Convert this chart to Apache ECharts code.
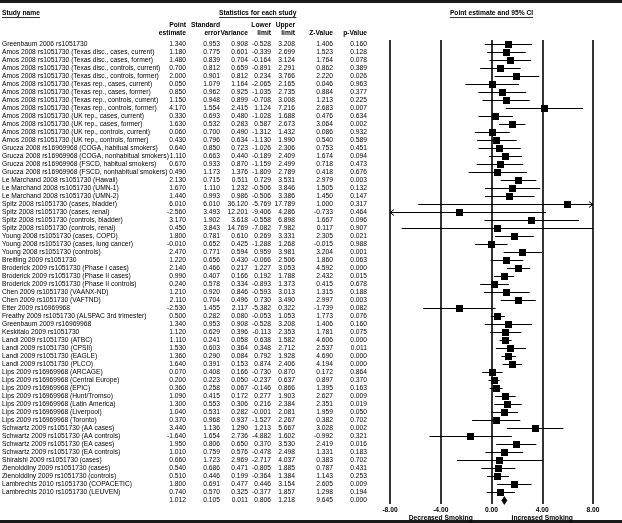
<!DOCTYPE html>
<html>
<head>
<meta charset="utf-8">
<script src="https://cdn.jsdelivr.net/npm/echarts@6/dist/echarts.min.js"></script>
<style>
html,body{margin:0;padding:0;background:#fff;}
#chart{width:622px;height:523px;}
</style>
</head>
<body>
<div id="chart"></div>
<script>
// ---------------- DATA ----------------
const studyNames = [
  'Greenbaum 2006 rs1051730',
  'Amos 2008 rs1051730 (Texas disc., cases, current)',
  'Amos 2008 rs1051730 (Texas disc., cases, former)',
  'Amos 2008 rs1051730 (Texas disc., controls, current)',
  'Amos 2008 rs1051730 (Texas disc., controls, former)',
  'Amos 2008 rs1051730 (Texas rep., cases, current)',
  'Amos 2008 rs1051730 (Texas rep., cases, former)',
  'Amos 2008 rs1051730 (Texas rep., controls, current)',
  'Amos 2008 rs1051730 (Texas rep., controls, former)',
  'Amos 2008 rs1051730 (UK rep., cases, current)',
  'Amos 2008 rs1051730 (UK rep., cases, former)',
  'Amos 2008 rs1051730 (UK rep., controls, current)',
  'Amos 2008 rs1051730 (UK rep., controls, former)',
  'Grucza 2008 rs16969968 (COGA, habitual smokers)',
  'Grucza 2008 rs16969968 (COGA, nonhabitual smokers)',
  'Grucza 2008 rs16969968 (FSCD, habitual smokers)',
  'Grucza 2008 rs16969968 (FSCD, nonhabitual smokers)',
  'Le Marchand 2008 rs1051730 (Hawaii)',
  'Le Marchand 2008 rs1051730 (UMN-1)',
  'Le Marchand 2008 rs1051730 (UMN-2)',
  'Spitz 2008 rs1051730 (cases, bladder)',
  'Spitz 2008 rs1051730 (cases, renal)',
  'Spitz 2008 rs1051730 (controls, bladder)',
  'Spitz 2008 rs1051730 (controls, renal)',
  'Young 2008 rs1051730 (cases, COPD)',
  'Young 2008 rs1051730 (cases, lung cancer)',
  'Young 2008 rs1051730 (controls)',
  'Breitling 2009 rs1051730',
  'Broderick 2009 rs1051730 (Phase I cases)',
  'Broderick 2009 rs1051730 (Phase II cases)',
  'Broderick 2009 rs1051730 (Phase II controls)',
  'Chen 2009 rs1051730 (VAANX-ND)',
  'Chen 2009 rs1051730 (VAFTND)',
  'Etter 2009 rs16969968',
  'Freathy 2009 rs1051730 (ALSPAC 3rd trimester)',
  'Greenbaum 2009 rs16969968',
  'Keskitalo 2009 rs1051730',
  'Landi 2009 rs1051730 (ATBC)',
  'Landi 2009 rs1051730 (CPSII)',
  'Landi 2009 rs1051730 (EAGLE)',
  'Landi 2009 rs1051730 (PLCO)',
  'Lips 2009 rs16969968 (ARCAGE)',
  'Lips 2009 rs16969968 (Central Europe)',
  'Lips 2009 rs16969968 (EPIC)',
  'Lips 2009 rs16969968 (Hunt/Tromso)',
  'Lips 2009 rs16969968 (Latin America)',
  'Lips 2009 rs16969968 (Liverpool)',
  'Lips 2009 rs16969968 (Toronto)',
  'Schwartz 2009 rs1051730 (AA cases)',
  'Schwartz 2009 rs1051730 (AA controls)',
  'Schwartz 2009 rs1051730 (EA cases)',
  'Schwartz 2009 rs1051730 (EA controls)',
  'Shiraishi 2009 rs1051730 (cases)',
  'Zienolddiny 2009 rs1051730 (cases)',
  'Zienolddiny 2009 rs1051730 (controls)',
  'Lambrechts 2010 rs1051730 (COPACETIC)',
  'Lambrechts 2010 rs1051730 (LEUVEN)',
  ''
];
const pointEst = [1.340,1.180,1.480,0.700,2.000,0.050,0.850,1.150,4.170,0.330,1.630,0.060,0.430,0.640,1.110,0.670,0.490,2.130,1.670,1.440,6.010,-2.560,3.170,0.450,1.800,-0.010,2.470,1.220,2.140,0.990,0.240,1.210,2.110,-2.530,0.500,1.340,1.120,1.110,1.530,1.360,1.640,0.070,0.200,0.360,1.090,1.300,1.040,0.370,3.440,-1.640,1.950,1.010,0.660,0.540,0.510,1.800,0.740,1.012];
const stdErr = [0.953,0.775,0.839,0.812,0.901,1.079,0.962,0.948,1.554,0.693,0.532,0.700,0.796,0.850,0.663,0.933,1.173,0.715,1.110,0.993,6.010,3.493,1.902,3.843,0.781,0.652,0.771,0.656,0.466,0.407,0.578,0.920,0.704,1.455,0.282,0.953,0.629,0.241,0.603,0.290,0.391,0.408,0.223,0.258,0.415,0.553,0.531,0.968,1.136,1.654,0.806,0.759,1.723,0.686,0.446,0.691,0.570,0.105];
const variance = [0.908,0.601,0.704,0.659,0.812,1.164,0.925,0.899,2.415,0.480,0.283,0.490,0.634,0.723,0.440,0.870,1.376,0.511,1.232,0.986,36.120,12.201,3.618,14.769,0.610,0.425,0.594,0.430,0.217,0.166,0.334,0.846,0.496,2.117,0.080,0.908,0.396,0.058,0.364,0.084,0.153,0.166,0.050,0.067,0.172,0.306,0.282,0.937,1.290,2.736,0.650,0.576,2.969,0.471,0.199,0.477,0.325,0.011];
const lowerLim = [-0.528,-0.339,-0.164,-0.891,0.234,-2.065,-1.035,-0.708,1.124,-1.028,0.587,-1.312,-1.130,-1.026,-0.189,-1.159,-1.809,0.729,-0.506,-0.506,-5.769,-9.406,-0.558,-7.082,0.269,-1.288,0.959,-0.066,1.227,0.192,-0.893,-0.593,0.730,-5.382,-0.053,-0.528,-0.113,0.638,0.348,0.792,0.874,-0.730,-0.237,-0.146,0.277,0.216,-0.001,-1.527,1.213,-4.882,0.370,-0.478,-2.717,-0.805,-0.364,0.446,-0.377,0.806];
const upperLim = [3.208,2.699,3.124,2.291,3.766,2.165,2.735,3.008,7.216,1.688,2.673,1.432,1.990,2.306,2.409,2.499,2.789,3.531,3.846,3.386,17.789,4.286,6.898,7.982,3.331,1.268,3.981,2.506,3.053,1.788,1.373,3.013,3.490,0.322,1.053,3.208,2.353,1.582,2.712,1.928,2.406,0.870,0.637,0.866,1.903,2.384,2.081,2.267,5.667,1.602,3.530,2.498,4.037,1.885,1.384,3.154,1.857,1.218];
const zValue = [1.406,1.523,1.764,0.862,2.220,0.046,0.884,1.213,2.683,0.476,3.064,0.086,0.540,0.753,1.674,0.718,0.418,2.979,1.505,1.450,1.000,-0.733,1.667,0.117,2.305,-0.015,3.204,1.860,4.592,2.432,0.415,1.315,2.997,-1.739,1.773,1.406,1.781,4.606,2.537,4.690,4.194,0.172,0.897,1.395,2.627,2.351,1.959,0.382,3.028,-0.992,2.419,1.331,0.383,0.787,1.143,2.605,1.298,9.645];
const pValue = [0.160,0.128,0.078,0.389,0.026,0.963,0.377,0.225,0.007,0.634,0.002,0.932,0.589,0.451,0.094,0.473,0.676,0.003,0.132,0.147,0.317,0.464,0.096,0.907,0.021,0.988,0.001,0.063,0.000,0.015,0.678,0.188,0.003,0.082,0.076,0.160,0.075,0.000,0.011,0.000,0.000,0.864,0.370,0.163,0.009,0.019,0.050,0.702,0.002,0.321,0.016,0.183,0.702,0.431,0.253,0.009,0.194,0.000];
const summaryIndex = 57;
const axisMin = -8, axisMax = 8, axisStep = 4;
const sideLabels = { '-4': 'Decreased Smoking', '4': 'Increased Smoking' };
const columnHeaders = [['Point','estimate'],['Standard','error'],['','Variance'],['Lower','limit'],['Upper','limit'],['','Z-Value'],['','p-Value']];

// ---------------- LAYOUT / STYLE ----------------
const FONT = '"Liberation Sans", Arial, Helvetica, sans-serif';
const FS = 6.7;
const GRID_LEFT = 390, GRID_RIGHT = 29, GRID_TOP = 40, GRID_H = 464;
const colRight = [186, 220, 248, 271, 295, 333, 367];
const columns = [pointEst, stdErr, variance, lowerLim, upperLim, zValue, pValue];
const rowIds = studyNames.map((_, i) => 'r' + i);

const chart = echarts.init(document.getElementById('chart'), null, {renderer: 'canvas'});

const yAxes = [{
  type: 'category', data: rowIds, inverse: true, gridIndex: 0, position: 'left',
  axisLine: {show: false}, axisTick: {show: false}, axisLabel: {show: false}, splitLine: {show: false}
}, {
  type: 'category', data: rowIds, inverse: true, gridIndex: 0, position: 'left', offset: 0,
  axisLine: {show: false}, axisTick: {show: false}, splitLine: {show: false},
  axisLabel: {show: true, interval: 0, margin: GRID_LEFT - 2, align: 'left', color: '#000',
    fontSize: FS, fontFamily: FONT, formatter: (v, i) => studyNames[i]}
}];
columns.forEach((col, c) => {
  yAxes.push({
    type: 'category', data: rowIds, inverse: true, gridIndex: 0, position: 'left',
    offset: GRID_LEFT - colRight[c],
    axisLine: {show: false}, axisTick: {show: false}, splitLine: {show: false},
    axisLabel: {show: true, interval: 0, margin: 0, align: 'right', color: '#000',
      fontSize: FS, fontFamily: FONT, formatter: (v, i) => col[i].toFixed(3)}
  });
});

const ciData = pointEst.map((p, i) => [lowerLim[i], upperLim[i], p, i]);

function renderItem(params, api) {
  const lo = api.value(0), hi = api.value(1), pt = api.value(2), idx = api.value(3);
  const yc = api.coord([0, idx])[1];
  const y = Math.round(yc) + 0.5;
  const xl = api.coord([Math.max(lo, axisMin), idx])[0];
  const xh = api.coord([Math.min(hi, axisMax), idx])[0];
  const xp = api.coord([pt, idx])[0];
  const children = [];
  if (idx === summaryIndex) {
    const xlo = api.coord([lo, idx])[0], xhi = api.coord([hi, idx])[0];
    children.push({type: 'polygon', shape: {points: [[xlo, y], [xp, y - 4], [xhi, y], [xp, y + 4]]},
      style: {fill: '#000', stroke: '#000', lineWidth: 0.6}});
    return {type: 'group', children};
  }
  children.push({type: 'line', shape: {x1: xl, y1: y, x2: xh, y2: y}, style: {stroke: '#000', lineWidth: 1}});
  if (lo < axisMin) {
    children.push({type: 'polyline', shape: {points: [[xl + 4, y - 3], [xl, y], [xl + 4, y + 3]]}, style: {stroke: '#000', lineWidth: 1, fill: null}});
  }
  if (hi > axisMax) {
    children.push({type: 'polyline', shape: {points: [[xh - 4, y - 3], [xh, y], [xh - 4, y + 3]]}, style: {stroke: '#000', lineWidth: 1, fill: null}});
  }
  const s = 7;
  children.push({type: 'rect', shape: {x: Math.round(xp - s / 2), y: Math.round(yc) - 3, width: s, height: s}, style: {fill: '#000'}});
  return {type: 'group', children};
}

// header graphics
const mctx = document.createElement('canvas').getContext('2d');
function textW(t, bold) { mctx.font = (bold ? 'bold ' : '') + FS + 'px ' + FONT; return mctx.measureText(t).width; }
const graphics = [];
graphics.push({type: 'rect', shape: {x: 0, y: 0, width: 622, height: 3}, style: {fill: '#1a1a1a'}});
graphics.push({type: 'rect', shape: {x: 0, y: 520, width: 622, height: 3}, style: {fill: '#1a1a1a'}});
function headText(t, x, y, align) {
  graphics.push({type: 'text', x: x, y: y, style: {text: t, fill: '#000', font: 'bold ' + FS + 'px ' + FONT, textAlign: align, textVerticalAlign: 'middle'}});
}
function underline(t, x, y, align) {
  const w = textW(t, true);
  const x0 = align === 'center' ? x - w / 2 : (align === 'right' ? x - w : x);
  graphics.push({type: 'line', shape: {x1: x0, y1: y + 4.5, x2: x0 + w, y2: y + 4.5}, style: {stroke: '#000', lineWidth: 0.8}});
}
headText('Study name', 2, 13, 'left'); underline('Study name', 2, 13, 'left');
const statsCenter = ((colRight[2] - textW('Variance', true)) + colRight[4]) / 2;
headText('Statistics for each study', statsCenter, 13, 'center'); underline('Statistics for each study', statsCenter, 13, 'center');
columnHeaders.forEach((h, c) => {
  if (h[0]) headText(h[0], colRight[c], 25, 'right');
  headText(h[1], colRight[c], 33, 'right');
});

chart.setOption({
  animation: false,
  backgroundColor: '#fff',
  grid: {left: GRID_LEFT, right: GRID_RIGHT, top: GRID_TOP, height: GRID_H, containLabel: false, outerBoundsMode: 'none'},
  xAxis: [{
    type: 'value', min: axisMin, max: axisMax, interval: axisStep, position: 'bottom',
    axisLine: {show: false}, axisTick: {show: false},
    splitLine: {show: true, showMinLine: true, showMaxLine: true, lineStyle: {color: '#000', width: 1.6}},
    axisLabel: {show: true, margin: 3, color: '#000', fontSize: FS, fontWeight: 'bold', fontFamily: FONT,
      formatter: v => v.toFixed(2)}
  }, {
    type: 'value', min: axisMin, max: axisMax, interval: axisStep, position: 'bottom', offset: 8,
    axisLine: {show: false}, axisTick: {show: false}, splitLine: {show: false},
    axisLabel: {show: true, margin: 3, color: '#000', fontSize: FS, fontWeight: 'bold', fontFamily: FONT,
      showMinLabel: true, showMaxLabel: true,
      formatter: v => sideLabels[String(v)] || ''}
  }],
  yAxis: yAxes,
  graphic: graphics,
  series: [{
    type: 'custom', xAxisIndex: 0, yAxisIndex: 0, clip: false,
    renderItem: renderItem, data: ciData, encode: {x: [0, 1, 2], y: 3}, silent: true
  }]
});

// header over the plot, centered on the zero of the scale
const zeroX = chart.convertToPixel({xAxisIndex: 0}, 0);
const plotTitle = 'Point estimate and 95% CI';
const ptw = textW(plotTitle, true);
chart.setOption({graphic: graphics.concat([
  {type: 'text', x: zeroX, y: 13, style: {text: plotTitle, fill: '#000', font: 'bold ' + FS + 'px ' + FONT, textAlign: 'center', textVerticalAlign: 'middle'}},
  {type: 'line', shape: {x1: zeroX - ptw / 2, y1: 17.5, x2: zeroX + ptw / 2, y2: 17.5}, style: {stroke: '#000', lineWidth: 0.8}}
])});
</script>
</body>
</html>
